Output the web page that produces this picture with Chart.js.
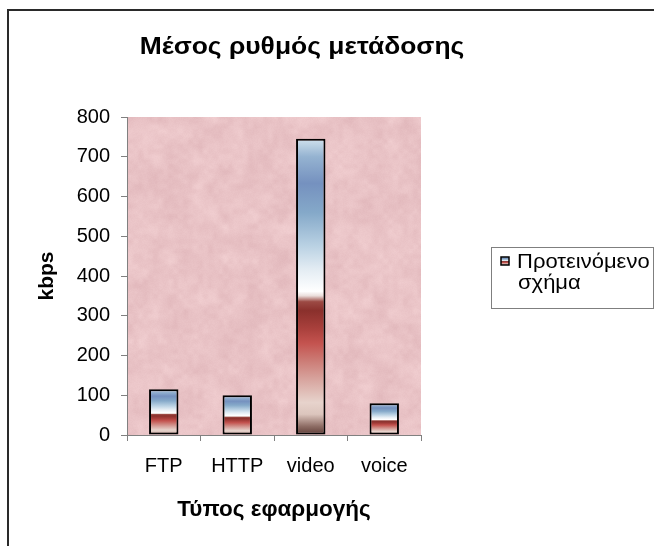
<!DOCTYPE html>
<html>
<head>
<meta charset="utf-8">
<script src="https://cdn.jsdelivr.net/npm/chart.js@4/dist/chart.umd.min.js"></script>
<style>
  html, body { margin: 0; padding: 0; background: #ffffff; }
  #wrap { width: 654px; height: 546px; position: relative; }
</style>
</head>
<body>
<div id="wrap"><canvas id="c" width="654" height="546"></canvas></div>
<script>
// Average transmission rate per application type
const categories = ['FTP', 'HTTP', 'video', 'voice'];
const rates = [115, 100, 745, 80];
const seriesLabel = ['Προτεινόμενο', 'σχήμα'];
const yMin = 0;
const yMax = 800;
const yStep = 100;
const chartTitle = 'Μέσος ρυθμός μετάδοσης';
const xAxisTitle = 'Τύπος εφαρμογής';
const yAxisTitle = 'kbps';

const FONT = "'Liberation Sans', Arial, sans-serif";
const PLOT_RGB = [233, 195, 198];

// Vertical fill of each bar, from its base (0) to its top (1)
const barStops = [
  [0.00, '#5c3a34'], [0.03, '#8f6e66'], [0.07, '#dcc5bd'], [0.11, '#e7d3cc'],
  [0.18, '#d9a9a3'], [0.25, '#cc7c76'], [0.31, '#c4534f'], [0.36, '#a9403c'],
  [0.42, '#8a302c'], [0.45, '#9c4a44'], [0.47, '#eadedb'], [0.485, '#ffffff'],
  [0.56, '#e3ecf3'], [0.64, '#b9d1e3'], [0.75, '#85a9c9'], [0.85, '#7591bf'],
  [0.94, '#95b3d1'], [1.00, '#d0e1ed']
];

function verticalGradient(ctx, yBase, yTop) {
  const g = ctx.createLinearGradient(0, yBase, 0, yTop);
  barStops.forEach(([o, c]) => g.addColorStop(o, c));
  return g;
}

function barFill(context) {
  const chart = context.chart;
  if (context.type !== 'data' || !chart.chartArea) return '#c4534f';
  const y = chart.scales.y;
  const base = y.getPixelForValue(0);
  const top = y.getPixelForValue(context.raw);
  return verticalGradient(chart.ctx, base, top);
}

// Paper-like mottled fill for the plot area (integer hash value noise)
function hash2(x, y) {
  let h = Math.imul(x, 374761393) + Math.imul(y, 668265263);
  h = Math.imul(h ^ (h >>> 13), 1274126177);
  h = h ^ (h >>> 16);
  return (h >>> 0) / 4294967295;
}
function valueNoise(x, y, cell) {
  const gx = x / cell, gy = y / cell;
  const x0 = Math.floor(gx), y0 = Math.floor(gy);
  const fx = gx - x0, fy = gy - y0;
  const sx = fx * fx * (3 - 2 * fx), sy = fy * fy * (3 - 2 * fy);
  const a = hash2(x0, y0), b = hash2(x0 + 1, y0);
  const c = hash2(x0, y0 + 1), d = hash2(x0 + 1, y0 + 1);
  return (a + (b - a) * sx) + ((c + (d - c) * sx) - (a + (b - a) * sx)) * sy;
}
let texture = null;
function plotTexture(w, h) {
  if (texture && texture.width === w && texture.height === h) return texture;
  const cv = document.createElement('canvas');
  cv.width = w; cv.height = h;
  const c2 = cv.getContext('2d');
  const img = c2.createImageData(w, h);
  for (let y = 0; y < h; y++) {
    for (let x = 0; x < w; x++) {
      const n = 0.5 * (valueNoise(x, y, 14) - 0.5) + 0.35 * (valueNoise(x + 97, y + 31, 5) - 0.5)
              + 0.15 * (hash2(x + 500, y + 900) - 0.5);
      const i = (y * w + x) * 4;
      img.data[i] = PLOT_RGB[0] + n * 18;
      img.data[i + 1] = PLOT_RGB[1] + n * 26;
      img.data[i + 2] = PLOT_RGB[2] + n * 24;
      img.data[i + 3] = 255;
    }
  }
  c2.putImageData(img, 0, 0);
  texture = cv;
  return cv;
}

function stretchedText(ctx, text, x, y, sx) {
  ctx.save();
  ctx.translate(x, y);
  ctx.scale(sx, 1);
  ctx.fillText(text, 0, 0);
  ctx.restore();
}

// Page frame, plot background, heading and legend box
const decorations = {
  id: 'decorations',
  beforeDraw(chart) {
    const ctx = chart.ctx;
    const a = chart.chartArea;
    ctx.save();
    ctx.fillStyle = '#ffffff';
    ctx.fillRect(0, 0, chart.width, chart.height);
    ctx.strokeStyle = '#2a2a2a';
    ctx.lineWidth = 2;
    ctx.beginPath();
    ctx.moveTo(8, chart.height + 5);
    ctx.lineTo(8, 10);
    ctx.lineTo(chart.width + 5, 10);
    ctx.stroke();
    const w = Math.round(a.right - a.left), h = Math.round(a.bottom - a.top);
    ctx.drawImage(plotTexture(w, h), a.left, a.top);
    ctx.restore();
  },
  afterDraw(chart) {
    const ctx = chart.ctx;
    ctx.save();
    ctx.fillStyle = '#000000';
    ctx.font = 'bold 23px ' + FONT;
    ctx.textAlign = 'center';
    ctx.textBaseline = 'alphabetic';
    stretchedText(ctx, chartTitle, 302, 54, 1.148);

    // legend
    const bx = 491, by = 247, bw = 162, bh = 61;
    ctx.strokeStyle = '#7f7f7f';
    ctx.lineWidth = 1;
    ctx.strokeRect(bx + 0.5, by + 0.5, bw, bh);
    const mx = 501, my = 257, ms = 8;
    ctx.fillStyle = verticalGradient(ctx, my + ms, my);
    ctx.fillRect(mx, my, ms, ms);
    ctx.strokeStyle = '#000000';
    ctx.lineWidth = 1.5;
    ctx.strokeRect(mx, my, ms, ms);
    ctx.fillStyle = '#000000';
    ctx.font = '20px ' + FONT;
    ctx.textAlign = 'left';
    stretchedText(ctx, seriesLabel[0], 517, 268, 1.1);
    stretchedText(ctx, seriesLabel[1], 518, 289, 1.1);
    ctx.restore();
  }
};

new Chart(document.getElementById('c'), {
  type: 'bar',
  data: {
    labels: categories,
    datasets: [{
      label: seriesLabel.join(' '),
      data: rates,
      backgroundColor: barFill,
      borderColor: '#000000',
      borderWidth: 2,
      borderSkipped: false,
      barPercentage: 0.4,
      categoryPercentage: 1.0
    }]
  },
  options: {
    responsive: false,
    devicePixelRatio: 1,
    animation: false,
    layout: { padding: { top: 117, right: 233, bottom: 0, left: 0 } },
    plugins: {
      legend: { display: false },
      title: { display: false },
      tooltip: { enabled: false }
    },
    scales: {
      x: {
        grid: { display: true, drawOnChartArea: false, drawTicks: true, tickLength: 6, color: '#808080', offset: true },
        border: { display: true, color: '#808080', width: 1 },
        ticks: { color: '#000000', font: { family: FONT, size: 20 }, padding: 13, maxRotation: 0 },
        title: { display: true, text: xAxisTitle, color: '#000000', font: { family: FONT, size: 22.5, weight: 'bold' }, padding: { top: 0, bottom: 23 } },
        afterFit(scale) { scale.height = 111; }
      },
      y: {
        min: yMin,
        max: yMax,
        grid: { display: true, drawOnChartArea: false, drawTicks: true, tickLength: 6, color: '#808080' },
        border: { display: true, color: '#808080', width: 1 },
        ticks: { stepSize: yStep, color: '#000000', font: { family: FONT, size: 20 }, padding: 11 },
        title: { display: true, text: yAxisTitle, color: '#000000', font: { family: FONT, size: 21, weight: 'bold' }, padding: { top: 35, bottom: 0 } },
        afterFit(scale) { scale.width = 127; }
      }
    }
  },
  plugins: [decorations]
});
</script>
</body>
</html>
